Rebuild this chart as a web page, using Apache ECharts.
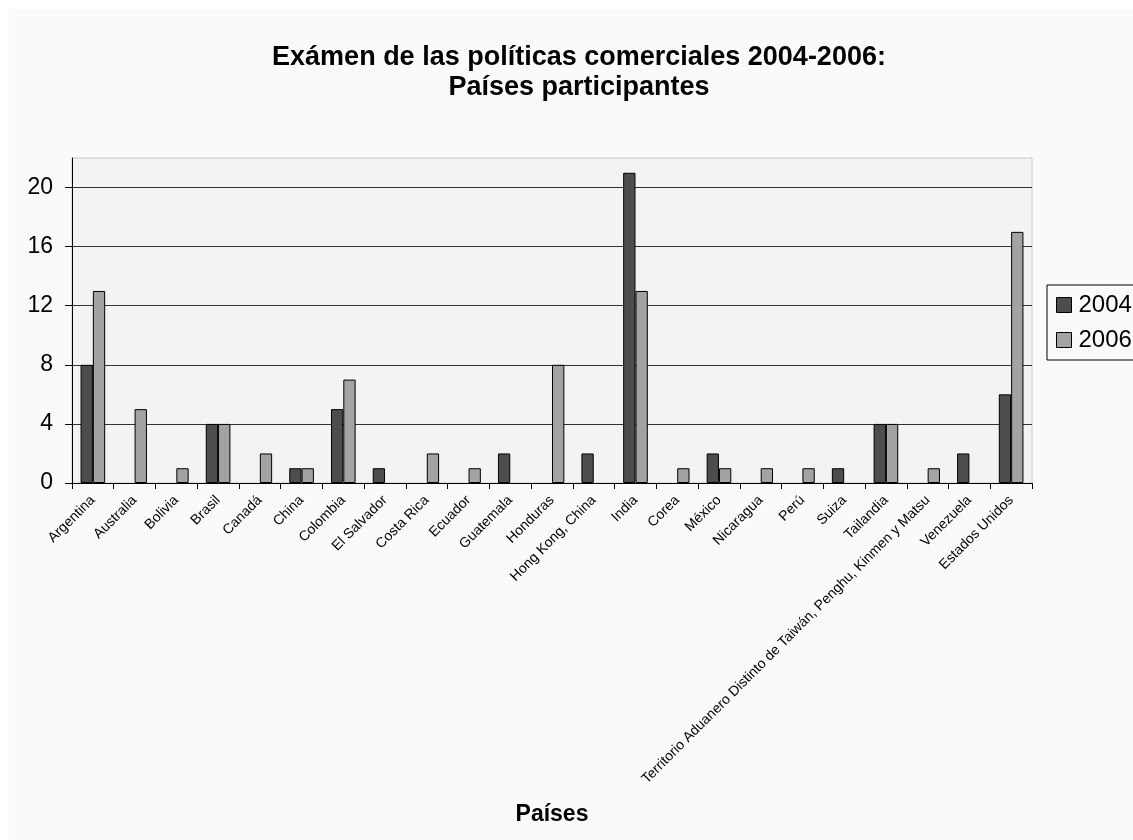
<!DOCTYPE html>
<html>
<head>
<meta charset="utf-8">
<script src="https://cdn.jsdelivr.net/npm/echarts@6/dist/echarts.min.js"></script>
<style>
  html, body { margin: 0; padding: 0; background: #ffffff; }
  #chart { position: absolute; left: 9px; top: 9px; width: 1124px; height: 831px; }
</style>
</head>
<body>
<div id="chart"></div>
<script>
// Countries reviewed, in axis order
const paises = [
  'Argentina', 'Australia', 'Bolivia', 'Brasil', 'Canadá', 'China', 'Colombia',
  'El Salvador', 'Costa Rica', 'Ecuador', 'Guatemala', 'Honduras',
  'Hong Kong, China', 'India', 'Corea', 'México', 'Nicaragua', 'Perú', 'Suiza',
  'Tailandia', 'Territorio Aduanero Distinto de Taiwán, Penghu, Kinmen y Matsu',
  'Venezuela', 'Estados Unidos'
];
// Participations per country in each review year
const valores2004 = [8, 0, 0, 4, 0, 1, 5, 1, 0, 0, 2, 0, 2, 21, 0, 2, 0, 0, 1, 4, 0, 2, 6];
const valores2006 = [13, 5, 1, 4, 2, 1, 7, 0, 2, 1, 0, 8, 0, 13, 1, 1, 1, 1, 0, 4, 1, 0, 17];
const serieNombres = ['2004', '2006'];
const yTicks = { min: 0, max: 22, interval: 4 };

const font = 'Arial, "Liberation Sans", sans-serif';

// zero-height bars get no outline so they leave no mark on the axis
const toBarData = arr => arr.map(v => (v === 0 ? { value: 0, itemStyle: { borderWidth: 0 } } : v));

const chart = echarts.init(document.getElementById('chart'), null, { renderer: 'canvas' });

chart.setOption({
  backgroundColor: '#fafafa',
  animation: false,
  title: {
    text: 'Exámen de las políticas comerciales 2004-2006:\nPaíses participantes',
    left: 565,
    top: 29,
    textAlign: 'center',
    textStyle: { fontFamily: font, fontSize: 27, fontWeight: 'bold', color: '#000', lineHeight: 30 }
  },
  legend: {
    orient: 'vertical',
    left: 1038,
    top: 276,
    padding: [8, 8, 8, 9],
    itemGap: 11,
    itemWidth: 15,
    itemHeight: 15,
    icon: 'rect',
    borderColor: '#000',
    borderWidth: 1,
    backgroundColor: '#fafafa',
    textStyle: { fontFamily: font, fontSize: 24, color: '#000', padding: [0, 0, 0, 2] },
    data: serieNombres.map(n => ({ name: n, itemStyle: { borderColor: '#000', borderWidth: 1 } }))
  },
  grid: {
    left: 63,
    right: 101,
    top: 149,
    bottom: 357,
    show: true,
    backgroundColor: '#f3f3f3',
    borderColor: '#c8c8c8',
    borderWidth: 1,
    containLabel: false
  },
  xAxis: {
    type: 'category',
    data: paises,
    name: 'Países',
    nameLocation: 'middle',
    nameGap: 320,
    nameTextStyle: { fontFamily: font, fontSize: 23, fontWeight: 'bold', color: '#000' },
    axisLine: { lineStyle: { color: '#000', width: 1 } },
    axisTick: { show: true, length: 6, lineStyle: { color: '#000' } },
    axisLabel: {
      interval: 0,
      rotate: 45,
      margin: 15,
      fontFamily: font,
      fontSize: 14,
      color: '#000'
    }
  },
  yAxis: {
    type: 'value',
    min: yTicks.min,
    max: yTicks.max,
    interval: yTicks.interval,
    axisLine: { show: true, lineStyle: { color: '#000', width: 1 } },
    axisTick: { show: true, length: 7, lineStyle: { color: '#000' } },
    axisLabel: {
      showMaxLabel: false,
      margin: 19,
      fontFamily: font,
      fontSize: 23,
      color: '#000'
    },
    splitLine: { show: true, showMaxLine: false, lineStyle: { color: '#333', width: 1 } }
  },
  series: [
    {
      name: serieNombres[0],
      type: 'bar',
      data: toBarData(valores2004),
      barGap: '0%',
      barCategoryGap: '41%',
      itemStyle: { color: '#4d4d4d', borderColor: '#000', borderWidth: 1 }
    },
    {
      name: serieNombres[1],
      type: 'bar',
      data: toBarData(valores2006),
      itemStyle: { color: '#a3a3a3', borderColor: '#000', borderWidth: 1 }
    }
  ]
});
</script>
</body>
</html>
